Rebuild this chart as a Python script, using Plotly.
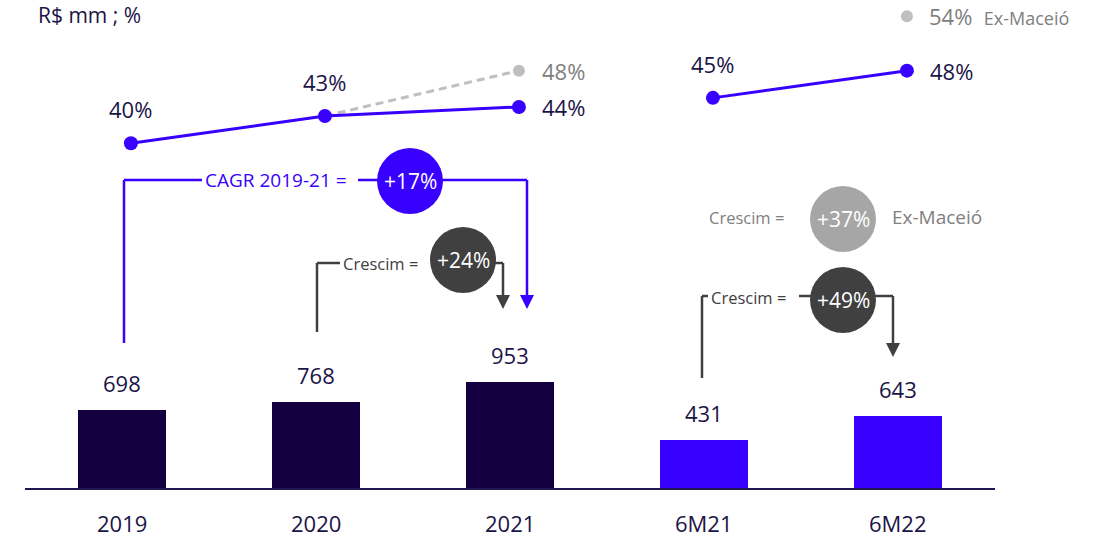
import plotly.graph_objects as go

# ---- data -------------------------------------------------------------
categories = ["2019", "2020", "2021", "6M21", "6M22"]
ebitda = [698, 768, 953, 431, 643]                 # R$ mm
margin_pct = [40, 43, 44, 45, 48]                  # %
margin_ex_maceio = [None, 43, 48, None, 54]        # %
growth_ex_maceio_6m = 37                           # %
margin_label_side = ["above", "above", "right", "above", "right"]

# ---- style ------------------------------------------------------------
FONT = "Open Sans"
NAVY = "#140041"
PURPLE = "#3700ff"
TEXT = "#1b1447"
DGRAY = "#404040"
MGRAY = "#808080"
LGRAY = "#a6a6a6"
DASH_GRAY = "#bfbfbf"

W, H = 1097, 537
ML, MR, MT, MB = 25, 102, 0, 49
PW, PH = W - ML - MR, H - MT - MB
LINE_OFFSET = 0.046          # line markers sit slightly right of bar centres


def px_x(px):
    return (px - ML) / PW


def px_y(py):
    return (PH + MT - py) / PH


xs = list(range(len(categories)))
bar_colors = [NAVY] * 3 + [PURPLE] * 2

fig = go.Figure()

fig.add_trace(go.Bar(
    x=xs, y=ebitda, width=0.454, marker=dict(color=bar_colors, line=dict(width=0)),
    hoverinfo="skip", showlegend=False,
))

# ex-Maceió margin (dashed grey) drawn first so the main series sits on top
fig.add_trace(go.Scatter(
    x=[x + LINE_OFFSET for x in xs], y=margin_ex_maceio, yaxis="y2",
    mode="lines+markers", connectgaps=False,
    line=dict(color=DASH_GRAY, width=3, dash="8px,5px"),
    marker=dict(color=DASH_GRAY, size=12),
    hoverinfo="skip", showlegend=False, cliponaxis=False,
))

for seg in (slice(0, 3), slice(3, 5)):
    fig.add_trace(go.Scatter(
        x=[x + LINE_OFFSET for x in xs[seg]], y=margin_pct[seg], yaxis="y2",
        mode="lines+markers",
        line=dict(color=PURPLE, width=3),
        marker=dict(color=PURPLE, size=14),
        hoverinfo="skip", showlegend=False, cliponaxis=False,
    ))

annotations = []
shapes = []


def text(x, y, s, color, size, xanchor="center", xref="paper", yref="paper", **kw):
    annotations.append(dict(
        x=x, y=y, xref=xref, yref=yref, text=s, showarrow=False,
        xanchor=xanchor, yanchor="middle",
        font=dict(family=FONT, size=size, color=color), **kw,
    ))


# bar value labels and category labels
for x, v, c in zip(xs, ebitda, categories):
    text(x, v, f"{v}", TEXT, 22, xref="x", yref="y", yshift=27)
    text(x, 0, c, TEXT, 22, xref="x", yref="paper", yshift=-35)

# margin labels
for x, v, side in zip(xs, margin_pct, margin_label_side):
    if side == "above":
        text(x + LINE_OFFSET, v, f"{v}%", TEXT, 22, xref="x", yref="y2", yshift=34)
    else:
        text(x + LINE_OFFSET, v, f"{v}%", TEXT, 22, xanchor="left",
             xref="x", yref="y2", xshift=21)

text(2 + LINE_OFFSET, margin_ex_maceio[2], f"{margin_ex_maceio[2]}%", MGRAY, 22,
     xanchor="left", xref="x", yref="y2", xshift=21)
text(4 + LINE_OFFSET, margin_ex_maceio[4],
     f"{margin_ex_maceio[4]}%  <span style='font-size:18px'>Ex-Maceió</span>",
     MGRAY, 22, xanchor="left", xref="x", yref="y2", xshift=20)

# unit title
text(px_x(36), px_y(15), "R$ mm ; %", TEXT, 21, xanchor="left")


def seg(x0, y0, x1, y1, color):
    shapes.append(dict(type="line", xref="paper", yref="paper",
                       x0=px_x(x0), y0=px_y(y0), x1=px_x(x1), y1=px_y(y1),
                       line=dict(color=color, width=2.5), layer="above"))


def arrow_head(x, y, color):
    shapes.append(dict(type="path", xref="paper", yref="paper",
                       xsizemode="pixel", ysizemode="pixel",
                       xanchor=px_x(x), yanchor=px_y(y),
                       path="M -7,14 L 7,14 L 0,0 Z",
                       fillcolor=color, line=dict(width=0), layer="above"))


def bubble(x, y, s, color):
    shapes.append(dict(type="circle", xref="paper", yref="paper",
                       xsizemode="pixel", ysizemode="pixel",
                       xanchor=px_x(x), yanchor=px_y(y),
                       x0=-33, x1=33, y0=-33, y1=33,
                       fillcolor=color, line=dict(width=0), layer="above"))
    text(px_x(x), px_y(y), s, "white", 21)


# growth figures
cagr = ((ebitda[2] / ebitda[0]) ** 0.5 - 1) * 100
g_year = (ebitda[2] / ebitda[1] - 1) * 100
g_half = (ebitda[4] / ebitda[3] - 1) * 100

# CAGR 2019-21 bracket
seg(124, 343, 124, 180, PURPLE)
seg(124, 180, 202, 180, PURPLE)
seg(358, 180, 527, 180, PURPLE)
seg(527, 180, 527, 296, PURPLE)
arrow_head(527, 309, PURPLE)
text(px_x(203), px_y(180), "CAGR 2019-21 =", PURPLE, 19, xanchor="left")
bubble(410, 181, f"+{cagr:.0f}%", PURPLE)

# 2020 -> 2021 bracket
seg(317, 332, 317, 263, DGRAY)
seg(317, 263, 340, 263, DGRAY)
seg(463, 263, 503, 263, DGRAY)
seg(503, 263, 503, 296, DGRAY)
arrow_head(503, 309, DGRAY)
text(px_x(341), px_y(263), "Crescim =", DGRAY, 16.5, xanchor="left")
bubble(463, 260, f"+{g_year:.0f}%", DGRAY)

# 6M21 -> 6M22 bracket
seg(702, 378, 702, 296, DGRAY)
seg(702, 296, 708, 296, DGRAY)
seg(799, 296, 893, 296, DGRAY)
seg(893, 296, 893, 344, DGRAY)
arrow_head(893, 357, DGRAY)
text(px_x(709), px_y(297), "Crescim =", DGRAY, 16.5, xanchor="left")
bubble(843, 300, f"+{g_half:.0f}%", DGRAY)

# ex-Maceió growth
text(px_x(786), px_y(217), "Crescim =", MGRAY, 16.5, xanchor="right")
bubble(843, 219, f"+{growth_ex_maceio_6m}%", LGRAY)
text(px_x(890), px_y(217), "Ex-Maceió", MGRAY, 19, xanchor="left")

fig.update_layout(
    width=W, height=H,
    margin=dict(l=ML, r=MR, t=MT, b=MB, pad=0),
    paper_bgcolor="white", plot_bgcolor="white",
    bargap=0, showlegend=False,
    xaxis=dict(range=[-0.5, 4.5], showgrid=False, zeroline=False,
               showticklabels=False, ticks="", showline=True,
               linecolor="#1f1752", linewidth=2, fixedrange=True),
    yaxis=dict(range=[0, PH / 0.1117], visible=False, fixedrange=True),
    yaxis2=dict(range=[55.79 - PH / 9.07, 55.79], overlaying="y",
                visible=False, fixedrange=True),
    annotations=annotations,
    shapes=shapes,
)

fig.write_html("out.html")
